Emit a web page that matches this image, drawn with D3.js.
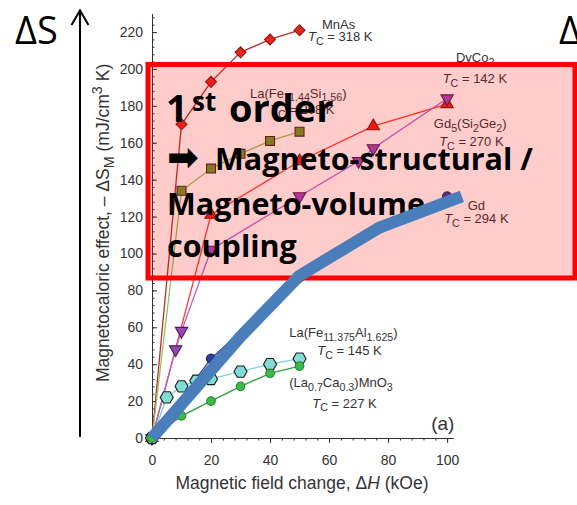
<!DOCTYPE html>
<html>
<head>
<meta charset="utf-8">
<script src="https://cdn.jsdelivr.net/npm/d3@7"></script>
<style>
    body { margin: 0; background: #fff; }
    svg { display: block; }
</style>
</head>
<body>
<div id="chart"></div>
<script>
// field change (kOe) and -dS_M (mJ/cm3 K)
const mnAsField = [0, 10, 20, 30, 40, 50];
const mnAsEntropy = [0, 170, 193, 209, 216, 221];
const laFeSiField = [0, 10, 20, 30, 40, 50];
const laFeSiEntropy = [0, 134, 146, 154, 161, 166];
const gdSiGeField = [0, 20, 50, 75, 100];
const gdSiGeEntropy = [0, 121, 150, 169, 181];
const dyCoField = [0, 8, 10, 20, 50, 70, 75, 100];
const dyCoEntropy = [0, 48, 58, 102, 131, 150, 157, 184];
const gdField = [0, 20, 50, 100];
const gdEntropy = [0, 43, 87, 131];
const laFeAlField = [0, 5, 10, 15, 20, 30, 40, 50];
const laFeAlEntropy = [0, 22, 28, 31, 32, 36, 40, 43];
const lcmoField = [0, 10, 20, 30, 40, 50];
const lcmoEntropy = [0, 12, 20, 28, 35, 39];

// thick hand-drawn line on the slide
const trendField = [0, 30, 50, 77, 105];
const trendEntropy = [0, 55, 88, 114, 131];

const xTicks = [0, 20, 40, 60, 80, 100];
const yTicks = [0, 20, 40, 60, 80, 100, 120, 140, 160, 180, 200, 220];

const width = 577;
const height = 505;
const font = 'Liberation Sans, Arial, sans-serif';
const slideFont = 'Open Sans, sans-serif';

const hexagon = {
    draw(context, size) {
        const r = Math.sqrt(size / (1.5 * Math.sqrt(3)));
        for (let i = 0; i < 6; i++) {
            const a = i * Math.PI / 3;
            if (i === 0) context.moveTo(r * Math.cos(a), r * Math.sin(a));
            else context.lineTo(r * Math.cos(a), r * Math.sin(a));
        }
        context.closePath();
    }
};

const zip = (xs, ys) => xs.map((v, i) => ({ h: v, s: ys[i] }));

const series = [
    { points: zip(mnAsField, mnAsEntropy), line: '#b0302c', type: d3.symbolSquare, size: 60, rotate: 45, fill: '#e8261e', edge: '#8a1612' },
    { points: zip(laFeSiField, laFeSiEntropy), line: '#93c15c', type: d3.symbolSquare, size: 80, rotate: 0, fill: '#68982c', edge: '#3e2a18' },
    { points: zip(gdSiGeField, gdSiGeEntropy), line: '#ff3a2e', type: d3.symbolTriangle, size: 66, rotate: 0, fill: '#e8221a', edge: '#7a1410' },
    { points: zip(dyCoField, dyCoEntropy), line: '#b660cc', type: d3.symbolTriangle, size: 66, rotate: 180, fill: '#9a48b8', edge: '#4a1a5a' },
    { points: zip(gdField, gdEntropy), line: '#3a3a8a', type: d3.symbolCircle, size: 66, rotate: 0, fill: '#2b3f9e', edge: '#1a2050' },
    { points: zip(laFeAlField, laFeAlEntropy), line: '#72d6d2', type: hexagon, size: 110, rotate: 0, fill: '#80dcd4', edge: '#1a1a1a' },
    { points: zip(lcmoField, lcmoEntropy), line: '#2f9e40', type: d3.symbolCircle, size: 58, rotate: 0, fill: '#3dbb48', edge: '#2a8a30' }
];

const svg = d3.select('#chart')
    .append('svg')
    .attr('width', width)
    .attr('height', height);

const x = d3.scaleLinear().domain([0, 102]).range([152, 453]);
const y = d3.scaleLinear().domain([0, 230]).range([438, 13.6]);

// text with sub/superscript and italic pieces
function richText(parent, px, py, parts, size) {
    const text = parent.append('text')
        .attr('x', px)
        .attr('y', py)
        .attr('font-size', size);
    let shift = 0;
    parts.forEach(([str, mode]) => {
        const off = mode === 'sub' ? size * 0.3 : mode === 'sup' ? -size * 0.4 : 0;
        const t = text.append('tspan').attr('dy', off - shift).text(str);
        if (mode === 'sub' || mode === 'sup') t.attr('font-size', size * 0.82);
        if (mode === 'it') t.attr('font-style', 'italic');
        shift = off;
    });
    return text;
}

const chart = svg.append('g')
    .attr('font-family', font)
    .attr('fill', '#333');

// axes
const styleAxis = g => {
    g.selectAll('path, line').attr('stroke', '#333');
    g.selectAll('text').attr('fill', '#333').attr('font-family', font).attr('font-size', 14);
};

chart.append('g')
    .attr('transform', `translate(0, ${y(0)})`)
    .call(d3.axisBottom(x).tickValues(d3.range(0, 101, 4)).tickSizeInner(2.5).tickSizeOuter(0).tickFormat(''))
    .call(styleAxis);

chart.append('g')
    .attr('transform', `translate(0, ${y(0)})`)
    .call(d3.axisBottom(x).tickValues(xTicks).tickSizeInner(5).tickSizeOuter(0).tickPadding(12))
    .call(styleAxis);

chart.append('g')
    .attr('transform', `translate(${x(0)}, 0)`)
    .call(d3.axisLeft(y).tickValues(d3.range(0, 229, 4)).tickSizeInner(-2.5).tickSizeOuter(0).tickFormat(''))
    .call(styleAxis);

chart.append('g')
    .attr('transform', `translate(${x(0)}, 0)`)
    .call(d3.axisLeft(y).tickValues(yTicks).tickSizeInner(-5).tickSizeOuter(0).tickPadding(9))
    .call(styleAxis);

// axis titles
richText(chart, 302, 489, [['Magnetic field change, Δ'], ['H', 'it'], [' (kOe)']], 17.5)
    .attr('text-anchor', 'middle');

richText(chart.append('g').attr('transform', 'translate(109, 382) rotate(-90)'), 0, 0,
    [['Magnetocaloric effect, – ΔS'], ['M', 'sub'], [' (mJ/cm'], ['3', 'sup'], [' K)']], 17.5);

// series
const line = d3.line()
    .x(d => x(d.h))
    .y(d => y(d.s));

series.forEach(sr => {
    chart.append('path')
        .datum(sr.points)
        .attr('fill', 'none')
        .attr('stroke', sr.line)
        .attr('stroke-width', 1.3)
        .attr('d', line);

    chart.selectAll(null)
        .data(sr.points)
        .enter().append('path')
        .attr('transform', d => `translate(${x(d.h)}, ${y(d.s)}) rotate(${sr.rotate})`)
        .attr('d', d3.symbol().type(sr.type).size(sr.size))
        .attr('fill', sr.fill)
        .attr('stroke', sr.edge)
        .attr('stroke-width', 1.1);
});

// curve labels
const tc = t => [['T', 'it'], ['C', 'sub'], [` = ${t} K`]];
const labels = [
    { h: 57.6, s: 221.5, parts: [['MnAs']] },
    { h: 52.9, s: 215, parts: tc(318) },
    { h: 33.2, s: 184.5, parts: [['La(Fe'], ['11.44', 'sub'], ['Si'], ['1.56', 'sub'], [')']] },
    { h: 40, s: 175.5, parts: tc(208) },
    { h: 103, s: 203.5, parts: [['DyCo'], ['2', 'sub']] },
    { h: 98.5, s: 192.5, parts: tc(142) },
    { h: 95.5, s: 168, parts: [['Gd'], ['5', 'sub'], ['(Si'], ['2', 'sub'], ['Ge'], ['2', 'sub'], [')']] },
    { h: 97.3, s: 158, parts: tc(270) },
    { h: 107, s: 123.5, parts: [['Gd']] },
    { h: 99, s: 116.5, parts: tc(294) },
    { h: 46.5, s: 54.5, parts: [['La(Fe'], ['11.375', 'sub'], ['Al'], ['1.625', 'sub'], [')']] },
    { h: 56, s: 45, parts: tc(145) },
    { h: 46.5, s: 27.5, parts: [['(La'], ['0.7', 'sub'], ['Ca'], ['0.3', 'sub'], [')MnO'], ['3', 'sub']] },
    { h: 54.3, s: 16.5, parts: tc(227) }
];

labels.forEach(l => richText(chart, x(l.h), y(l.s), l.parts, 13));

chart.append('text')
    .attr('x', x(94.6))
    .attr('y', y(4.3))
    .attr('font-size', 19)
    .text('(a)');

// slide overlay: pink box
svg.append('rect')
    .attr('x', 148)
    .attr('y', 64.5)
    .attr('width', 427)
    .attr('height', 213.5)
    .attr('fill', 'rgba(255, 0, 0, 0.2)')
    .attr('stroke', '#ff0000')
    .attr('stroke-width', 5);

const slide = svg.append('g')
    .attr('font-family', slideFont)
    .attr('font-weight', 'bold')
    .attr('fill', '#000');

const first = slide.append('text').attr('y', 122).attr('font-size', 38);
first.append('tspan').attr('x', 166).text('1');
first.append('tspan').attr('x', 192).attr('dy', -11).attr('font-size', 26).text('st');
first.append('tspan').attr('x', 229).attr('dy', 11).text('order');

const second = slide.append('text').attr('y', 170).attr('font-size', 30.5);
second.append('tspan').attr('x', 167).attr('font-family', 'DejaVu Sans').attr('font-size', 38).text('➡');
second.append('tspan').attr('x', 215).text('Magneto-structural /');

slide.append('text').attr('x', 167).attr('y', 215).attr('font-size', 30.5).text('Magneto-volume');
slide.append('text').attr('x', 167).attr('y', 257).attr('font-size', 30.5).text('coupling');

// thick trend line
svg.append('path')
    .datum(zip(trendField, trendEntropy))
    .attr('fill', 'none')
    .attr('stroke', '#4a7ebb')
    .attr('stroke-width', 12)
    .attr('d', line);

// ΔS arrows on the slide
const delta = svg.append('g')
    .attr('font-family', slideFont)
    .attr('font-size', 38)
    .attr('fill', '#000');
delta.append('text').attr('x', 15).attr('y', 44).text('ΔS');
delta.append('text').attr('x', 559).attr('y', 44).text('ΔS');

svg.append('line')
    .attr('x1', 80).attr('y1', 437)
    .attr('x2', 80).attr('y2', 11)
    .attr('stroke', '#000')
    .attr('stroke-width', 2);

svg.append('path')
    .attr('d', 'M71.5,25L80,10.5L88.5,25')
    .attr('fill', 'none')
    .attr('stroke', '#000')
    .attr('stroke-width', 2);
</script>
</body>
</html>
